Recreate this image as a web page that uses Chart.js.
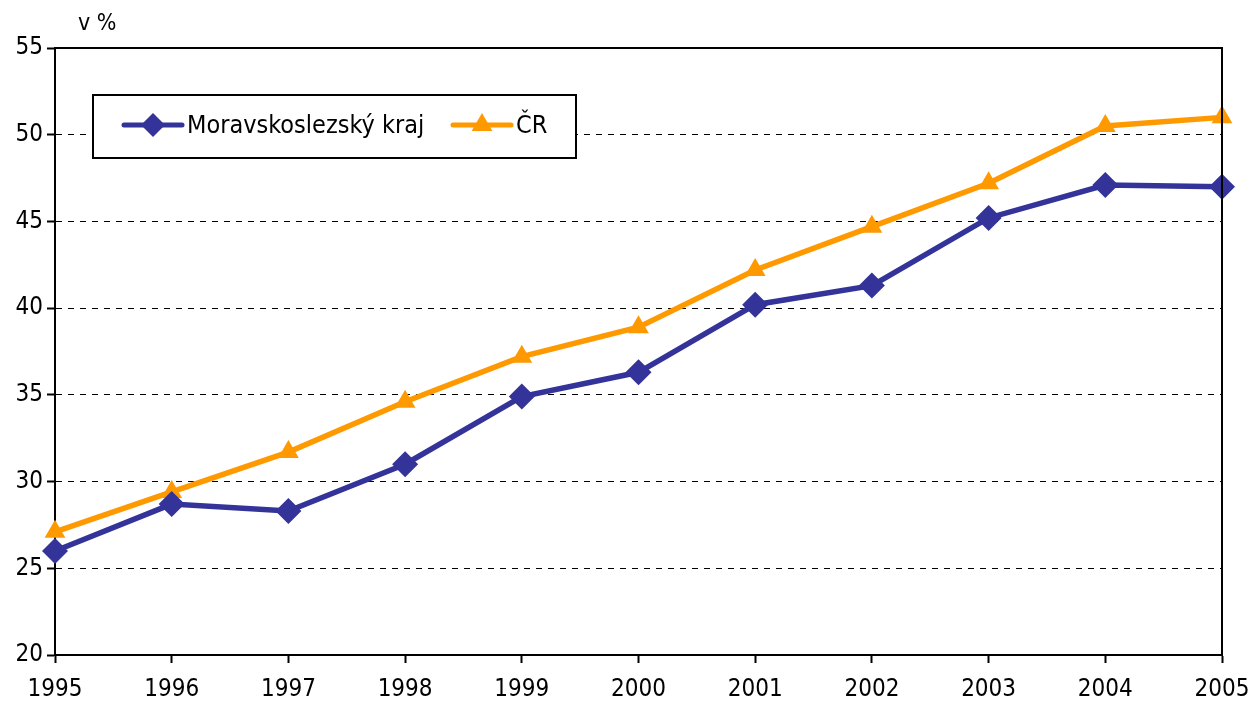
<!DOCTYPE html>
<html>
<head>
<meta charset="utf-8">
<script src="https://cdn.jsdelivr.net/npm/chart.js@4.4.0/dist/chart.umd.min.js"></script>
<style>
  html, body { margin: 0; padding: 0; background: #fff; }
  #wrap { width: 1249px; height: 707px; }
</style>
</head>
<body>
<div id="wrap"><canvas id="graf"></canvas></div>
<script>
// Data
const roky = ["1995", "1996", "1997", "1998", "1999", "2000", "2001", "2002", "2003", "2004", "2005"];
const moravskoslezsky = [26.0, 28.7, 28.3, 31.0, 34.9, 36.3, 40.2, 41.3, 45.2, 47.1, 47.0];
const cr = [27.1, 29.4, 31.7, 34.6, 37.2, 38.9, 42.2, 44.7, 47.2, 50.5, 51.0];
const nazvyRad = ["Moravskoslezský kraj", "ČR"];
const jednotka = "v %";

const FONT = "'Liberation Sans Narrow', 'Arial Narrow', 'DejaVu Sans Condensed', sans-serif";
const MODRA = "#333399";
const ORANZOVA = "#FF9900";

// ramecek, popisek osy a legenda
const ramecek = {
  id: "ramecek",
  afterDraw(chart) {
    const { ctx, chartArea: a } = chart;
    ctx.save();
    ctx.strokeStyle = "#000";
    ctx.lineWidth = 2;
    ctx.beginPath();
    ctx.moveTo(a.left, a.top);
    ctx.lineTo(a.right, a.top);
    ctx.lineTo(a.right, a.bottom);
    ctx.stroke();

    ctx.fillStyle = "#000";
    ctx.font = "23px " + FONT;
    ctx.textAlign = "left";
    ctx.textBaseline = "middle";
    ctx.fillText(jednotka, 78, 24);

    // legenda
    ctx.fillStyle = "#fff";
    ctx.fillRect(93, 95, 483, 63);
    ctx.strokeRect(93, 95, 483, 63);
    const y = 125;
    const polozky = [
      { x: 124, barva: MODRA, tvar: "rectRot", text: nazvyRad[0] },
      { x: 453, barva: ORANZOVA, tvar: "triangle", text: nazvyRad[1] }
    ];
    polozky.forEach(p => {
      ctx.strokeStyle = p.barva;
      ctx.lineWidth = 5;
      ctx.lineCap = "round";
      ctx.beginPath();
      ctx.moveTo(p.x, y);
      ctx.lineTo(p.x + 58, y);
      ctx.stroke();
      ctx.fillStyle = p.barva;
      Chart.helpers.drawPoint(ctx, { pointStyle: p.tvar, radius: 12, rotation: 0, borderWidth: 0 }, p.x + 29, y);
      ctx.fillStyle = "#000";
      ctx.font = "25px " + FONT;
      ctx.fillText(p.text, p.x + 63, y + 1);
    });
    ctx.restore();
  }
};

new Chart(document.getElementById("graf"), {
  type: "line",
  data: {
    labels: roky,
    datasets: [
      {
        label: nazvyRad[0],
        data: moravskoslezsky,
        borderColor: MODRA,
        backgroundColor: MODRA,
        borderWidth: 5.5,
        pointStyle: "rectRot",
        pointRadius: 13,
        pointBorderWidth: 0,
        tension: 0
      },
      {
        label: nazvyRad[1],
        data: cr,
        borderColor: ORANZOVA,
        backgroundColor: ORANZOVA,
        borderWidth: 5.5,
        pointStyle: "triangle",
        pointRadius: 12,
        pointBorderWidth: 0,
        tension: 0
      }
    ]
  },
  options: {
    responsive: true,
    maintainAspectRatio: false,
    animation: false,
    layout: { padding: { top: 48, right: 27, left: 0, bottom: 0 } },
    plugins: {
      legend: { display: false },
      tooltip: { enabled: false }
    },
    scales: {
      x: {
        offset: false,
        afterFit(s) { s.height = 52; s.paddingLeft = 0; s.paddingRight = 0; },
        grid: { drawOnChartArea: false, drawTicks: true, tickLength: 8, tickColor: "#000", tickWidth: 2 },
        border: { display: true, color: "#000", width: 2 },
        ticks: { color: "#000", font: { family: FONT, size: 24 }, padding: 12, maxRotation: 0, autoSkip: false }
      },
      y: {
        min: 20,
        max: 55,
        afterFit(s) { s.width = 55; s.paddingTop = 0; s.paddingBottom = 0; },
        ticks: { stepSize: 5, color: "#000", font: { family: FONT, size: 24 }, padding: 4 },
        grid: {
          color: c => (c.tick.value === 20 || c.tick.value === 55) ? "rgba(0,0,0,0)" : "#000",
          lineWidth: 1,
          drawTicks: true,
          tickLength: 8,
          tickColor: "#000",
          tickWidth: 2,
          tickBorderDash: []
        },
        border: { display: true, color: "#000", width: 2, dash: [6, 6] }
      }
    }
  },
  plugins: [ramecek]
});
</script>
</body>
</html>
